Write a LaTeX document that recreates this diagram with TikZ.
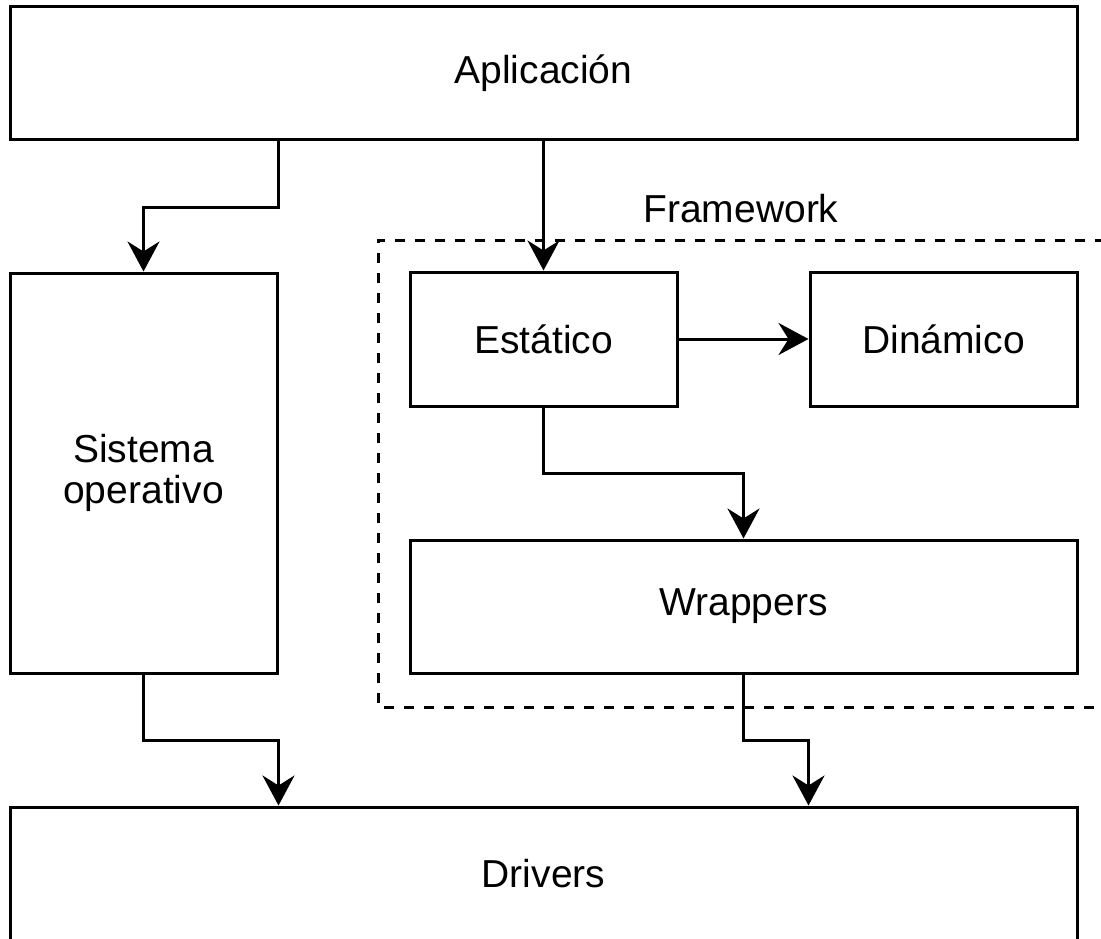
\documentclass[tikz,border=0pt]{standalone}
\usepackage{fontspec}
\setmainfont{Liberation Sans}
\usetikzlibrary{arrows.meta}
\begin{document}
\begin{tikzpicture}[x=1pt,y=-1pt,
  box/.style={draw=black,line width=3pt,fill=white,inner sep=0pt,
    font=\fontsize{39}{41}\selectfont,align=center},
  arr/.style={line width=3pt,-{Stealth[length=30pt,width=32pt,inset=10pt]}},
  frame/.style={line width=3pt,dash pattern=on 10pt off 10pt}]
\useasboundingbox (0,0) rectangle (1101,939);
\node[box,minimum width=1067pt,minimum height=133pt] (apl) at (543.5,73.5) {Aplicación};
\node[box,minimum width=267pt,minimum height=400pt] (sys) at (143.5,473) {Sistema\\operativo};
\draw[frame] (1105,240) -- (378,240) -- (378,707) -- (1105,707);
\node[font=\fontsize{39}{41}\selectfont] (fw) at (741,209) {Framework};
\node[box,minimum width=267pt,minimum height=134pt] (est) at (543.5,339) {Estático};
\node[box,minimum width=267pt,minimum height=134pt] (din) at (943.5,339) {Dinámico};
\node[box,minimum width=667pt,minimum height=133pt] (wrap) at (743.5,606.5) {Wrappers};
\node[box,minimum width=1067pt,minimum height=133pt] (drv) at (543.5,873.5) {Drivers};
\draw[arr] (apl.south -| sys.east) -- (sys.east |- 0,207) -| (sys.north);
\draw[arr] (apl.south -| est.north) -- (est.north);
\draw[arr] (est.east) -- (din.west);
\draw[arr] (est.south) -- (est.south |- 0,473) -| (wrap.north);
\draw[arr] (sys.south) -- (sys.south |- 0,740) -| (drv.north -| sys.east);
\draw[arr] (wrap.south) -- (wrap.south |- 0,740) -| (drv.north -| din.west);
\end{tikzpicture}
\end{document}
